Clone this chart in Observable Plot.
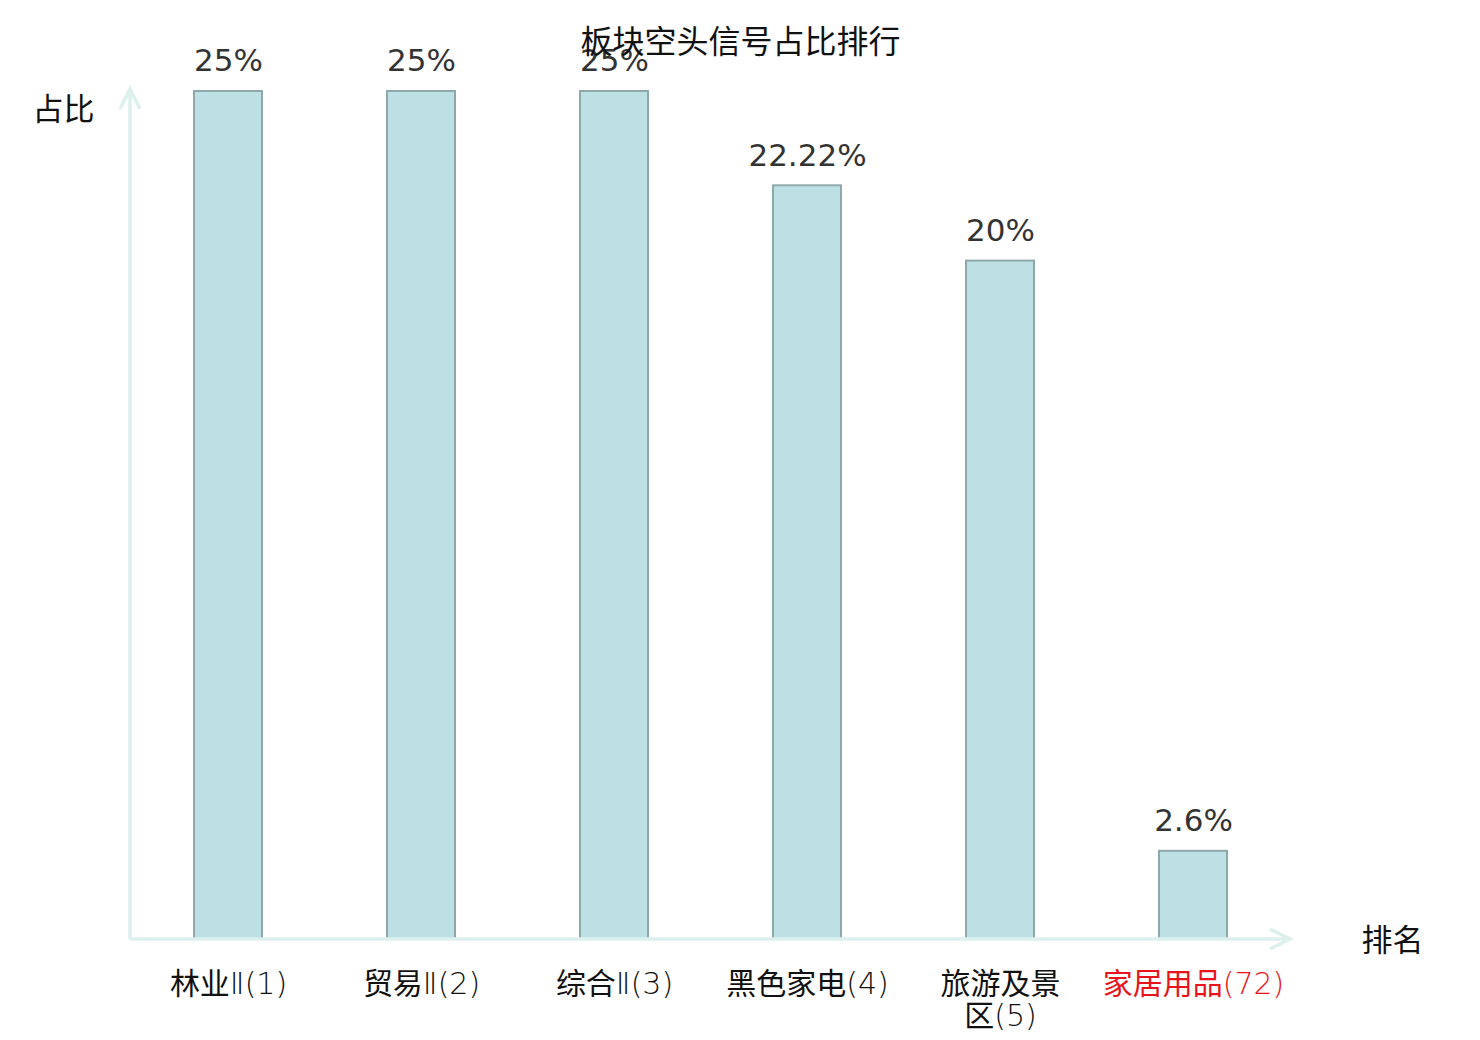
<!DOCTYPE html>
<html>
<head>
<meta charset="utf-8">
<script src="https://cdn.jsdelivr.net/npm/d3@7"></script>
<script src="https://cdn.jsdelivr.net/npm/@observablehq/plot@0.6"></script>
<style>
  html, body { margin: 0; padding: 0; background: #fff; }
  #chart { width: 1480px; height: 1040px; }
</style>
</head>
<body>
<div id="chart"></div>
<script>
const categories = ["林业Ⅱ(1)", "贸易Ⅱ(2)", "综合Ⅱ(3)", "黑色家电(4)", "旅游及景区(5)", "家居用品(72)"];
const tickLabels = ["林业Ⅱ(1)", "贸易Ⅱ(2)", "综合Ⅱ(3)", "黑色家电(4)", "旅游及景\n区(5)", "家居用品(72)"];
const values = [25, 25, 25, 22.22, 20, 2.6];
const valueLabels = ["25%", "25%", "25%", "22.22%", "20%", "2.6%"];
const highlight = [false, false, false, false, false, true];
const title = "板块空头信号占比排行";
const yTitle = "占比";
const xTitle = "排名";

const data = categories.map((c, i) => ({
  cat: c, value: values[i], vlabel: valueLabels[i], tick: tickLabels[i], hi: highlight[i]
}));

const cjk = "'Noto Sans CJK SC', 'DejaVu Sans', sans-serif";
const tickFont = "'DejaVu Sans ExtraLight', 'DejaVu Sans', 'Noto Sans CJK SC', sans-serif";
const axisColor = "#dcf0ee";

function axesWithArrows(index, scales, values, dims, context) {
  const g = d3.create("svg:g");
  const x0 = dims.marginLeft;
  const x1 = dims.width - dims.marginRight;
  const yb = dims.height - dims.marginBottom;
  const yt = dims.marginTop - 2;
  const stroke = axisColor;
  g.append("line").attr("x1", x0).attr("x2", x0).attr("y1", yb).attr("y2", yt)
    .attr("stroke", stroke).attr("stroke-width", 3.5);
  g.append("path").attr("d", `M${x0 - 10},${yt + 20}L${x0},${yt}L${x0 + 10},${yt + 20}`)
    .attr("fill", "none").attr("stroke", stroke).attr("stroke-width", 3.5);
  g.append("line").attr("x1", x0).attr("x2", x1).attr("y1", yb).attr("y2", yb)
    .attr("stroke", stroke).attr("stroke-width", 3.5);
  g.append("path").attr("d", `M${x1 - 20},${yb - 10}L${x1},${yb}L${x1 - 20},${yb + 10}`)
    .attr("fill", "none").attr("stroke", stroke).attr("stroke-width", 3.5);
  return g.node();
}

const chart = Plot.plot({
  width: 1480,
  height: 1040,
  marginLeft: 130,
  marginRight: 190,
  marginTop: 91,
  marginBottom: 101,
  style: { background: "#fff", overflow: "visible" },
  x: { domain: categories, paddingInner: 0.648, paddingOuter: 0.324, axis: null },
  y: { domain: [0, 25], axis: null },
  marks: [
    Plot.barY(data, { x: "cat", y: "value", fill: "#bce0e3", stroke: "#8fa9ab", strokeWidth: 2 }),
    axesWithArrows,
    Plot.text(data, {
      x: "cat", y: "value", text: "vlabel", dy: -30,
      fontSize: 31, fill: "#333", fontFamily: "'DejaVu Sans', sans-serif"
    }),
    Plot.text(data, {
      x: "cat", text: "tick", frameAnchor: "bottom", lineAnchor: "top", dy: 32,
      fontSize: 30, lineHeight: 1.07, fontFamily: tickFont, fontWeight: 200,
      fill: d => d.hi ? "#e8141b" : "#111", className: "ticklabels"
    }),
    Plot.text([title], {
      text: d => d, frameAnchor: "top", lineAnchor: "middle", dx: 30, dy: -49,
      fontSize: 32, fill: "#111", fontFamily: cjk
    }),
    Plot.text([yTitle], {
      text: d => d, frameAnchor: "top-left", lineAnchor: "middle", dx: -67, dy: 19, textAnchor: "middle",
      fontSize: 31, fill: "#111", fontFamily: cjk
    }),
    Plot.text([xTitle], {
      text: d => d, frameAnchor: "bottom-right", lineAnchor: "middle", dx: 102, dy: 2, textAnchor: "middle",
      fontSize: 31, fill: "#111", fontFamily: cjk
    })
  ]
});

// CJK characters in regular weight, Latin parts thin
const isCJK = ch => /[\u3400-\u9fff]/.test(ch);
d3.select(chart).selectAll(".ticklabels text, .ticklabels tspan").each(function () {
  const el = this;
  if (el.children.length > 0) return;
  const s = el.textContent;
  if (!s) return;
  const runs = [];
  for (const ch of s) {
    const c = isCJK(ch);
    if (runs.length && runs[runs.length - 1].c === c) runs[runs.length - 1].t += ch;
    else runs.push({ c, t: ch });
  }
  el.textContent = "";
  for (const r of runs) {
    const ts = document.createElementNS("http://www.w3.org/2000/svg", "tspan");
    ts.textContent = r.t;
    if (r.c) {
      ts.setAttribute("font-weight", "400");
      ts.setAttribute("font-family", "'Noto Sans CJK SC', sans-serif");
    }
    el.appendChild(ts);
  }
});

document.getElementById("chart").appendChild(chart);
</script>
</body>
</html>
